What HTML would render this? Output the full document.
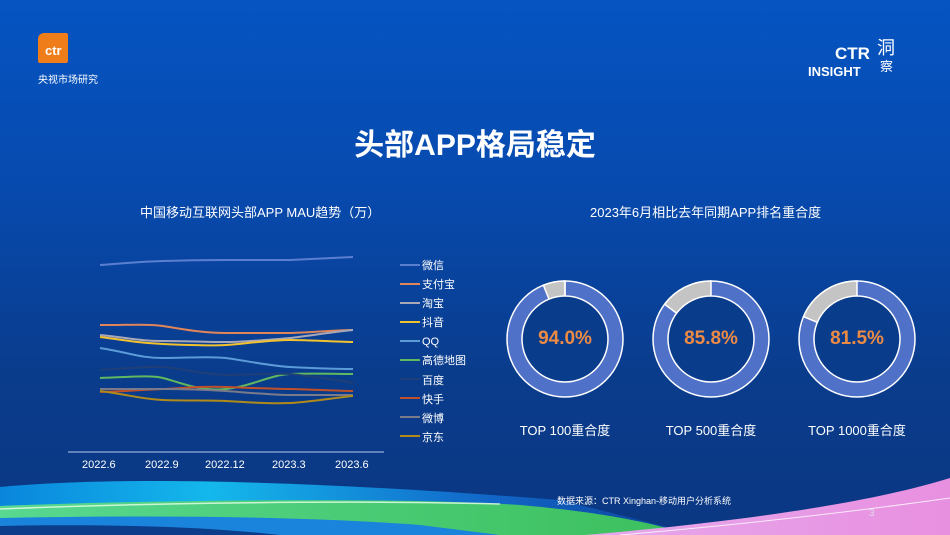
<!DOCTYPE html>
<html><head><meta charset="utf-8"><style>
body{margin:0}
#s{position:relative;width:950px;height:535px;overflow:hidden;background:linear-gradient(180deg,#0554c2 0%,#074aae 35%,#0a3c8c 70%,#0b3782 100%);font-family:"Liberation Sans","Noto Sans CJK SC",sans-serif;color:#fff}
.t{position:absolute;white-space:nowrap}
</style></head><body><div id="s">
<svg width="950" height="535" style="position:absolute;left:0;top:0">
<defs>
<linearGradient id="cy" x1="0" x2="1"><stop offset="0" stop-color="#0a86dc"/><stop offset=".3" stop-color="#14b8ec"/><stop offset=".7" stop-color="#1266c8"/><stop offset="1" stop-color="#0b3f94"/></linearGradient>
<linearGradient id="gr" x1="0" x2="1"><stop offset="0" stop-color="#58d890"/><stop offset="1" stop-color="#3cbf5c"/></linearGradient>
<linearGradient id="pk" x1="0" x2="1"><stop offset="0" stop-color="#e6a8ec"/><stop offset="1" stop-color="#e890e0"/></linearGradient>
</defs>
<path d="M0 487 C120 476 300 480 560 500 L700 535 L0 535Z" fill="url(#cy)"/>
<path d="M0 506 C150 500 400 497 520 505 C600 512 650 522 690 535 L0 535Z" fill="url(#gr)"/>
<path d="M0 509 C150 503 350 500 500 504" stroke="#eaffea" stroke-width="1.5" fill="none" opacity=".8"/>
<path d="M0 518 C150 515 300 516 420 525 L500 535 L0 535Z" fill="#1a84dc"/>
<path d="M0 526 C100 524 200 526 280 535 L0 535Z" fill="#0b3d8a"/>
<path d="M585 535 C760 520 880 500 950 478 L950 535Z" fill="url(#pk)"/>
<path d="M620 535 C770 522 880 508 950 498" stroke="#fff" stroke-width="1" fill="none" opacity=".8"/>
<g fill="none" stroke-width="2">
<path d="M100 265 C131 263,132 262,163 261 S226 260,226 260 S290 260,290 260 S353 257,353 257" stroke="#5b7fcf"/>
<path d="M100 325 C131 325,150 324,163 326 S200 333,226 333 S280 333,290 333 S340 330,353 330" stroke="#e0855a"/>
<path d="M100 335 C131 338,140 341,163 341 S210 342,226 342 S280 339,290 338 S340 331,353 330" stroke="#a8a8b8"/>
<path d="M100 337 C131 341,140 343,163 344 S210 346,226 345 S270 340,290 340 S340 342,353 342" stroke="#f2c12e"/>
<path d="M100 348 C131 353,140 358,163 358 S210 356,226 358 S270 366,290 367 S340 369,353 369" stroke="#5b9bd8"/>
<path d="M100 378 C131 377,150 375,163 378 S200 392,226 389 S270 375,290 374 S340 374,353 374" stroke="#60b860"/>
<path d="M100 370 C131 368,150 366,163 367 S210 375,226 375 S280 373,290 374 S340 380,353 383" stroke="#1f3f78"/>
<path d="M100 392 C131 391,140 390,163 389 S200 386,226 387 S280 389,290 389 S340 391,353 391" stroke="#c0502a"/>
<path d="M100 389 C131 389,140 389,163 389 S210 390,226 391 S270 395,290 395 S340 395,353 395" stroke="#7a7a8a"/>
<path d="M100 391 C131 395,140 399,163 400 S210 400,226 401 S270 404,290 403 S340 397,353 396" stroke="#b08a1a"/>
</g>
<line x1="68" y1="452" x2="384" y2="452" stroke="#b8c8e8" stroke-width="1"/>
<g stroke-width="2">
<line x1="400" y1="265" x2="420" y2="265" stroke="#5b7fcf"/>
<line x1="400" y1="284" x2="420" y2="284" stroke="#e0855a"/>
<line x1="400" y1="303" x2="420" y2="303" stroke="#a8a8b8"/>
<line x1="400" y1="322" x2="420" y2="322" stroke="#f2c12e"/>
<line x1="400" y1="341" x2="420" y2="341" stroke="#5b9bd8"/>
<line x1="400" y1="360" x2="420" y2="360" stroke="#60b860"/>
<line x1="400" y1="379" x2="420" y2="379" stroke="#1f3f78"/>
<line x1="400" y1="398" x2="420" y2="398" stroke="#c0502a"/>
<line x1="400" y1="417" x2="420" y2="417" stroke="#7a7a8a"/>
<line x1="400" y1="436" x2="420" y2="436" stroke="#b08a1a"/>
</g>
<g stroke="#fff" stroke-width="1.5">
<g transform="translate(565,339)"><circle r="58" fill="#4f72c8"/><path d="M0 0 L0 -58 A58 58 0 0 0 -21.6 -53.8Z" fill="#c4c4c4"/><circle r="43" fill="#0a3c8c"/><line x1="0" y1="-43" x2="0" y2="-58"/></g>
<g transform="translate(711,339)"><circle r="58" fill="#4f72c8"/><path d="M0 0 L0 -58 A58 58 0 0 0 -46.4 -34.8Z" fill="#c4c4c4"/><circle r="43" fill="#0a3c8c"/></g>
<g transform="translate(857,339)"><circle r="58" fill="#4f72c8"/><path d="M0 0 L0 -58 A58 58 0 0 0 -53.5 -22.4Z" fill="#c4c4c4"/><circle r="43" fill="#0a3c8c"/></g>
</g>
</svg>
<div style="position:absolute;left:38px;top:33px;width:30px;height:30px;background:#ef7d1a;border-radius:6px 2px 2px 2px"></div>
<div class="t" style="left:45px;top:43px;font-size:13px;font-weight:bold">ctr</div>
<div class="t" style="left:38px;top:71px;font-size:10px">央视市场研究</div>
<div class="t" style="left:835px;top:44px;font-size:17px;font-weight:bold">CTR</div>
<div class="t" style="left:808px;top:64px;font-size:13px;font-weight:bold">INSIGHT</div>
<div class="t" style="left:877px;top:34px;font-size:18px">洞</div>
<div class="t" style="left:880px;top:56px;font-size:13px">察</div>
<div class="t" style="left:0;width:950px;text-align:center;top:120px;font-size:30px;font-weight:bold">头部APP格局稳定</div>
<div class="t" style="left:140px;top:202px;font-size:13px">中国移动互联网头部APP MAU趋势（万）</div>
<div class="t" style="left:590px;top:202px;font-size:13px">2023年6月相比去年同期APP排名重合度</div>
<div style="position:absolute;left:422px;top:257px;font-size:11px;line-height:19.1px">微信<br>支付宝<br>淘宝<br>抖音<br>QQ<br>高德地图<br>百度<br>快手<br>微博<br>京东</div>
<div class="t" style="left:82px;top:459px;font-size:11px">2022.6</div>
<div class="t" style="left:145px;top:459px;font-size:11px">2022.9</div>
<div class="t" style="left:205px;top:459px;font-size:11px">2022.12</div>
<div class="t" style="left:272px;top:459px;font-size:11px">2023.3</div>
<div class="t" style="left:335px;top:459px;font-size:11px">2023.6</div>
<div class="t" style="left:515px;top:328px;width:100px;text-align:center;font-size:19px;font-weight:bold;color:#ed8a44">94.0%</div>
<div class="t" style="left:661px;top:328px;width:100px;text-align:center;font-size:19px;font-weight:bold;color:#ed8a44">85.8%</div>
<div class="t" style="left:807px;top:328px;width:100px;text-align:center;font-size:19px;font-weight:bold;color:#ed8a44">81.5%</div>
<div class="t" style="left:515px;top:420px;width:100px;text-align:center;font-size:13px">TOP 100重合度</div>
<div class="t" style="left:651px;top:420px;width:120px;text-align:center;font-size:13px">TOP 500重合度</div>
<div class="t" style="left:792px;top:420px;width:130px;text-align:center;font-size:13px">TOP 1000重合度</div>
<div class="t" style="left:557px;top:494px;font-size:9px">数据来源：CTR Xinghan-移动用户分析系统</div>
<div class="t" style="left:869px;top:508px;font-size:10px;color:#dde">3</div>
</div></body></html>
